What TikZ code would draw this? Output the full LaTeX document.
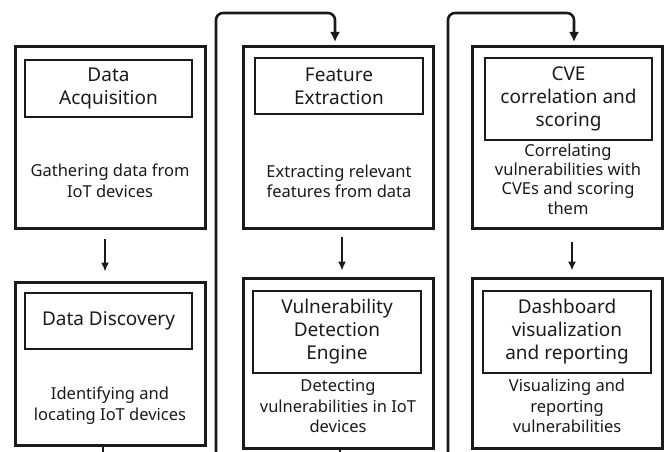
\documentclass[tikz,border=0pt]{standalone}
\usepackage{fontspec}
\setmainfont{Noto Sans}
\usetikzlibrary{arrows.meta}
\definecolor{ink}{HTML}{1A1A1A}
\begin{document}
\begin{tikzpicture}[x=1pt,y=-1pt,
  outerbox/.style={draw=ink,line width=3pt,minimum width=190pt,inner sep=0pt},
  innerbox/.style={draw=ink,line width=1.4pt,align=center,text=ink,inner sep=0pt,
    font=\fontsize{19}{23}\selectfont},
  desc/.style={align=center,text=ink,inner sep=0pt,font=\fontsize{16.5}{20.5}\selectfont},
  shortarrow/.style={draw=ink,line width=1.5pt,-{Latex[length=9pt,width=8pt]}},
  loopline/.style={draw=ink,line width=2.6pt,rounded corners=7pt},
  looparrow/.style={loopline,-{Latex[length=10pt,width=10pt]}}]
\useasboundingbox (0,0) rectangle (667,452);
% top row outer boxes
\node[outerbox,minimum height=181pt] (da) at (110,137.5) {};
\node[outerbox,minimum height=181pt] (fe) at (338,137.5) {};
\node[outerbox,minimum height=181pt] (cve) at (567,137.5) {};
% bottom row outer boxes
\node[outerbox,minimum height=163pt] (dd) at (110,363.5) {};
\node[outerbox,minimum height=170pt] (vd) at (338,363) {};
\node[outerbox,minimum height=170pt] (db) at (567,363) {};
% title boxes
\node[innerbox,minimum width=167pt,minimum height=57pt] (tda) at (108.5,88.5) {Data\\Acquisition};
\node[innerbox,minimum width=168pt,minimum height=56pt] (tfe) at (339,86) {Feature\\Extraction};
\node[innerbox,minimum width=167pt,minimum height=82pt] (tcve) at (568.5,99) {CVE\\correlation and\\scoring};
\node[innerbox,minimum width=167pt,minimum height=56pt] (tdd) at (108.5,321) {Data Discovery};
\node[innerbox,minimum width=168pt,minimum height=82pt] (tvd) at (337,332) {Vulnerability\\Detection\\Engine};
\node[innerbox,minimum width=168pt,minimum height=82pt] (tdb) at (567,332) {Dashboard\\visualization\\and reporting};
% descriptions
\node[desc] (dda) at (110,181) {Gathering data from\\IoT devices};
\node[desc] (dfe) at (339,181.5) {Extracting relevant\\features from data};
\node[desc,font=\fontsize{16.5}{19.3}\selectfont] (dcve) at (568,179) {Correlating\\vulnerabilities with\\CVEs and scoring\\them};
\node[desc] (ddd) at (110,405.5) {Identifying and\\locating IoT devices};
\node[desc] (dvd) at (338,406) {Detecting\\vulnerabilities in IoT\\devices};
\node[desc] (ddb) at (567,406) {Visualizing and\\reporting\\vulnerabilities};
% short arrows
\draw[shortarrow] ([xshift=-5pt,yshift=-9pt]da.south) -- ([xshift=-5pt,yshift=9pt]dd.north);
\draw[shortarrow] ([xshift=4pt,yshift=-7pt]fe.south) -- ([xshift=4pt,yshift=6pt]vd.north);
\draw[shortarrow] ([xshift=5pt,yshift=-12pt]cve.south) -- ([xshift=5pt,yshift=6pt]db.north);
% loop connectors
\coordinate (ddout) at (103,452);
\coordinate (vdout) at (340,452);
\coordinate (loopa) at (216,452);
\coordinate (loopb) at (448,452);
\coordinate (fein) at (335,42);
\coordinate (cvein) at (574,42);
\draw[loopline] (ddout |- dd.south) -- (ddout);
\draw[loopline] (vdout |- vd.south) -- (vdout);
\draw[looparrow] (loopa) -- (216,13) -- (335,13) -- (fein);
\draw[looparrow] (loopb) -- (448,13) -- (574,13) -- (cvein);
\end{tikzpicture}
\end{document}
